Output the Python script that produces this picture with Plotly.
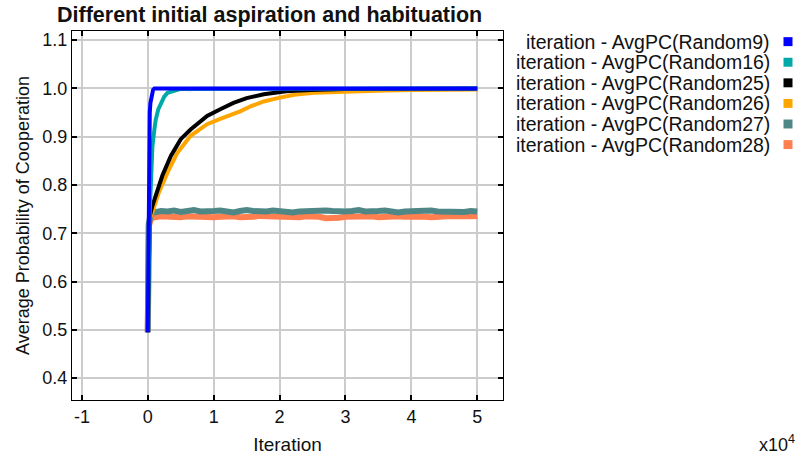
import plotly.graph_objects as go

# ---- data (iterations, average probability of cooperation) ----
names = ["Random9", "Random16", "Random25", "Random26", "Random27", "Random28"]
colors = ["#0000FF", "#00A8A8", "#000000", "#FFA500", "#4F8787", "#FF7F50"]

iter_r9 = [0, 50, 100, 150, 200, 300, 400, 600, 800, 1000, 50000]
pc_r9 = [0.495, 0.62, 0.75, 0.85, 0.9, 0.95, 0.97, 0.99, 0.997, 1.0, 1.0]

iter_r16 = [0, 100, 200, 300, 450, 700, 1000, 1200, 1600, 2000, 2500, 3000, 4000, 5000, 50000]
pc_r16 = [0.495, 0.6, 0.7, 0.75, 0.795, 0.88, 0.915, 0.935, 0.957, 0.971, 0.983, 0.991, 0.996, 0.999, 1.0]

iter_r25 = [0, 150, 300, 700, 1500, 2200, 3500, 5000, 6500, 9000, 11000, 13000, 15000,
            17600, 21000, 24700, 30000, 40000, 50000]
pc_r25 = [0.495, 0.72, 0.735, 0.757, 0.792, 0.819, 0.86, 0.895, 0.915, 0.943, 0.957, 0.97, 0.98,
          0.988, 0.994, 0.997, 0.999, 1.0, 1.0]

iter_r26 = [0, 150, 300, 700, 1700, 3000, 4500, 6500, 9000, 11000, 12600, 14100, 15600, 17600,
            19700, 22200, 25200, 28700, 32300, 36000, 40000, 45000, 50000]
pc_r26 = [0.495, 0.715, 0.73, 0.744, 0.785, 0.826, 0.867, 0.902, 0.926, 0.937, 0.945, 0.953, 0.963, 0.973,
          0.98, 0.987, 0.991, 0.993, 0.995, 0.996, 0.997, 0.998, 0.998]

iter_flat = [0, 150, 500] + list(range(1000, 50001, 1000))
pc_r27 = [0.495, 0.72, 0.742,
          0.744, 0.746, 0.745, 0.747, 0.744, 0.746, 0.748, 0.745, 0.744, 0.746,
          0.747, 0.745, 0.743, 0.746, 0.748, 0.746, 0.744, 0.745, 0.747, 0.745,
          0.744, 0.743, 0.745, 0.746, 0.744, 0.745, 0.747, 0.746, 0.744, 0.745,
          0.746, 0.748, 0.745, 0.744, 0.746, 0.747, 0.745, 0.743, 0.745, 0.746,
          0.744, 0.745, 0.747, 0.745, 0.744, 0.746, 0.745, 0.744, 0.746, 0.745]
pc_r28 = [0.495, 0.715, 0.73,
          0.733, 0.735, 0.734, 0.736, 0.733, 0.735, 0.734, 0.736, 0.735, 0.733,
          0.734, 0.736, 0.735, 0.733, 0.732, 0.734, 0.736, 0.735, 0.734, 0.736,
          0.735, 0.734, 0.733, 0.735, 0.736, 0.734, 0.731, 0.730, 0.732, 0.734,
          0.735, 0.736, 0.734, 0.735, 0.733, 0.734, 0.736, 0.735, 0.734, 0.735,
          0.736, 0.734, 0.733, 0.735, 0.734, 0.736, 0.735, 0.734, 0.735, 0.736]

series_x = [iter_r9, iter_r16, iter_r25, iter_r26, iter_flat, iter_flat]
series_y = [pc_r9, pc_r16, pc_r25, pc_r26, pc_r27, pc_r28]

x_tick_vals = [-10000, 0, 10000, 20000, 30000, 40000, 50000]
x_tick_text = ["-1", "0", "1", "2", "3", "4", "5"]
y_tick_vals = [0.4, 0.5, 0.6, 0.7, 0.8, 0.9, 1.0, 1.1]

FONT = "Liberation Sans, Arial, Helvetica, sans-serif"
W, H = 801, 464
L, R, T, B = 72, 503, 31, 402  # plot-area edges in pixels


def px_x(px):
    return (px - L) / (R - L)


def px_y(py):
    return (B - py) / (B - T)


fig = go.Figure()

# later series first so the first legend entries end up on top
for i in reversed(range(len(names))):
    fig.add_trace(go.Scatter(
        x=series_x[i], y=series_y[i], mode="lines",
        line=dict(color=colors[i], width=6 if i >= 4 else 4),
        name="iteration - AvgPC(%s)" % names[i], showlegend=False,
    ))

axis_common = dict(
    showline=True, linecolor="black", linewidth=1, mirror="ticks",
    ticks="inside", ticklen=5, tickcolor="black", tickwidth=1.5,
    showgrid=True, gridcolor="#cccccc", gridwidth=1.5, zeroline=False,
    tickfont=dict(family=FONT, size=18, color="#111111"),
)

fig.update_xaxes(range=[-11500, 53900], tickvals=x_tick_vals, ticktext=x_tick_text,
                 title=dict(text="Iteration", font=dict(family=FONT, size=19, color="#111111"), standoff=12),
                 **axis_common)
fig.update_yaxes(range=[0.3546, 1.119], tickvals=y_tick_vals, tickformat=".1f",
                 title=dict(text="Average Probability of Cooperation",
                            font=dict(family=FONT, size=18, color="#111111"), standoff=8),
                 **axis_common)

# legend drawn at the right: right-aligned label followed by a colour square
annotations = []
shapes = []
row0, row_step = 41.7, 20.7
for i, name in enumerate(names):
    cy = row0 + row_step * i
    annotations.append(dict(
        x=px_x(772), y=px_y(cy), xref="paper", yref="paper",
        text="iteration - AvgPC(%s)" % name, showarrow=False,
        xanchor="right", yanchor="middle",
        font=dict(family=FONT, size=19.5, color="#111111"),
    ))
    shapes.append(dict(
        type="rect", xref="paper", yref="paper",
        x0=px_x(783.5), x1=px_x(792.5), y0=px_y(cy - 4.5), y1=px_y(cy + 4.5),
        fillcolor=colors[i], line=dict(width=0),
    ))

annotations.append(dict(
    x=px_x(757), y=px_y(446), xref="paper", yref="paper",
    text="x10<sup>4</sup>", showarrow=False, xanchor="left", yanchor="middle",
    font=dict(family=FONT, size=18, color="#111111"),
))

fig.update_layout(
    width=W, height=H,
    margin=dict(l=L, r=W - R, t=T, b=H - B),
    paper_bgcolor="white", plot_bgcolor="white",
    title=dict(text="<b>Different initial aspiration and habituation</b>",
               x=57 / W, xref="container", xanchor="left",
               y=1 - 14 / H, yref="container", yanchor="middle",
               font=dict(family=FONT, size=21.5, color="#111111")),
    annotations=annotations, shapes=shapes, showlegend=False,
)

fig.write_html("out.html")
